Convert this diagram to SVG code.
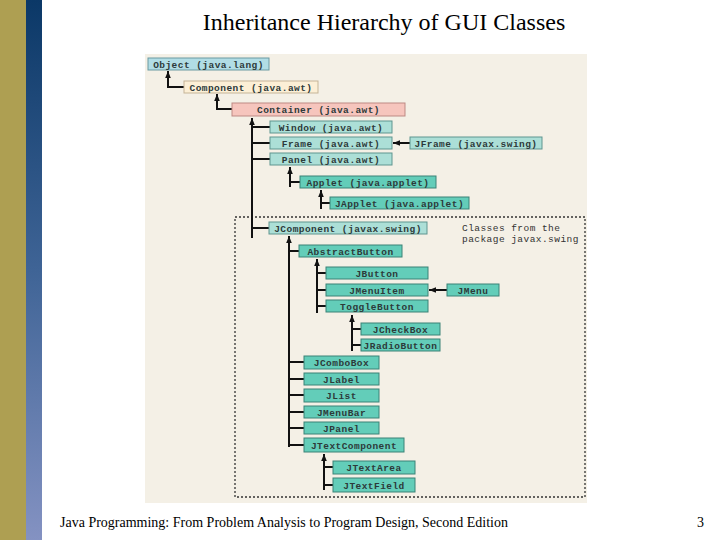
<svg xmlns="http://www.w3.org/2000/svg" width="720" height="540" viewBox="0 0 720 540">
<defs>
<linearGradient id="bar" x1="0" y1="0" x2="0" y2="1">
<stop offset="0" stop-color="#0b3867"/>
<stop offset="0.5" stop-color="#3f6496"/>
<stop offset="1" stop-color="#8492c2"/>
</linearGradient>
<marker id="arr" viewBox="0 0 10 8" refX="10" refY="4" markerWidth="7" markerHeight="5.6" markerUnits="userSpaceOnUse" orient="auto-start-reverse">
<path d="M0,0 L10,4 L0,8 z" fill="#111"/>
</marker>
<style>
.t{font-family:"Liberation Serif","Times New Roman",serif;fill:#000}
.b text{font-family:"Liberation Mono","Courier New",monospace;font-size:9.5px;font-weight:bold;letter-spacing:0.45px;fill:#2d3a3a;text-anchor:middle}
.l1 rect{fill:#acdfd7;stroke:#5f958f;stroke-width:1}
.l2 rect{fill:#63cdb9;stroke:#3a8277;stroke-width:1}
.c path{fill:none;stroke:#111;stroke-width:2}
.note{font-family:"Liberation Mono","Courier New",monospace;font-size:9.5px;letter-spacing:0.45px;fill:#333}
</style>
</defs>
<rect width="720" height="540" fill="#fff"/>
<rect x="0" y="0" width="26" height="540" fill="#ae9f52"/>
<rect x="26" y="0" width="16" height="540" fill="url(#bar)"/>
<text class="t" x="384" y="30" font-size="24" text-anchor="middle">Inheritance Hierarchy of GUI Classes</text>
<rect x="145" y="54" width="442" height="449" fill="#f4f0e6"/>
<rect x="235" y="217" width="350" height="280" fill="none" stroke="#333" stroke-width="1.3" stroke-dasharray="2,2"/>
<text class="note" x="462" y="231">Classes from the</text>
<text class="note" x="462" y="242">package javax.swing</text>
<g class="c" id="connectors">
<path d="M168,71 V87 H184" marker-start="url(#arr)"/>
<path d="M217,94 V109 H232" marker-start="url(#arr)"/>
<path d="M252,118 V238" marker-start="url(#arr)"/>
<path d="M252,127 H270 M252,143 H270 M252,159 H270 M252,228 H269"/>
<path d="M393,143 H410" marker-start="url(#arr)"/>
<path d="M290,167 V187" marker-start="url(#arr)"/>
<path d="M290,182 H300"/>
<path d="M321,190 V209" marker-start="url(#arr)"/>
<path d="M321,203 H330"/>
<path d="M289,236 V447" marker-start="url(#arr)"/>
<path d="M289,251 H299 M289,362 H304 M289,379 H304 M289,395 H304 M289,412 H304 M289,428 H304 M289,445 H304"/>
<path d="M317,259 V313" marker-start="url(#arr)"/>
<path d="M317,273 H326 M317,290 H326 M317,306 H326"/>
<path d="M429,290 H447" marker-start="url(#arr)"/>
<path d="M352,315 V351" marker-start="url(#arr)"/>
<path d="M352,329 H361 M352,345 H361"/>
<path d="M324,454 V490" marker-start="url(#arr)"/>
<path d="M324,467 H333 M324,485 H333"/>
</g>
<g class="b" id="object"><rect x="148" y="58" width="121" height="12" fill="#b1dde5" stroke="#6a9aa2"/><text x="208.5" y="67.5">Object (java.lang)</text></g>
<g class="b" id="component"><rect x="184" y="81" width="134" height="12" fill="#fcefd6" stroke="#c5b497"/><text x="251" y="90.5">Component (java.awt)</text></g>
<g class="b" id="container"><rect x="232" y="103" width="173" height="13" fill="#f6c5bd" stroke="#bd8983"/><text x="318.5" y="113">Container (java.awt)</text></g>
<g class="b l1" id="window"><rect x="270" y="121" width="122" height="12"/><text x="331" y="130.5">Window (java.awt)</text></g>
<g class="b l1" id="frame"><rect x="270" y="137" width="122" height="12"/><text x="331" y="146.5">Frame (java.awt)</text></g>
<g class="b l1" id="panel"><rect x="270" y="153" width="122" height="12"/><text x="331" y="162.5">Panel (java.awt)</text></g>
<g class="b l1" id="jframe"><rect x="410" y="137" width="132" height="12"/><text x="476" y="146.5">JFrame (javax.swing)</text></g>
<g class="b l2" id="applet"><rect x="300" y="176" width="136" height="12"/><text x="368" y="185.5">Applet (java.applet)</text></g>
<g class="b l2" id="japplet"><rect x="330" y="197" width="139" height="12"/><text x="399.5" y="206.5">JApplet (java.applet)</text></g>
<g class="b l1" id="jcomponent"><rect x="269" y="222" width="158" height="12"/><text x="348" y="231.5">JComponent (javax.swing)</text></g>
<g class="b l2" id="abstractbutton"><rect x="299" y="245" width="103" height="12"/><text x="350.5" y="254.5">AbstractButton</text></g>
<g class="b l2" id="jbutton"><rect x="326" y="267" width="102" height="12"/><text x="377" y="276.5">JButton</text></g>
<g class="b l2" id="jmenuitem"><rect x="326" y="284" width="102" height="12"/><text x="377" y="293.5">JMenuItem</text></g>
<g class="b l2" id="togglebutton"><rect x="326" y="300" width="102" height="12"/><text x="377" y="309.5">ToggleButton</text></g>
<g class="b l2" id="jmenu"><rect x="447" y="284" width="52" height="12"/><text x="473" y="293.5">JMenu</text></g>
<g class="b l2" id="jcheckbox"><rect x="361" y="323" width="79" height="12"/><text x="400.5" y="332.5">JCheckBox</text></g>
<g class="b l2" id="jradiobutton"><rect x="361" y="339" width="79" height="12"/><text x="400.5" y="348.5">JRadioButton</text></g>
<g class="b l2" id="jcombobox"><rect x="304" y="356" width="75" height="13"/><text x="341.5" y="366">JComboBox</text></g>
<g class="b l2" id="jlabel"><rect x="304" y="373" width="75" height="12"/><text x="341.5" y="382.5">JLabel</text></g>
<g class="b l2" id="jlist"><rect x="304" y="389" width="75" height="13"/><text x="341.5" y="399">JList</text></g>
<g class="b l2" id="jmenubar"><rect x="304" y="406" width="75" height="12"/><text x="341.5" y="415.5">JMenuBar</text></g>
<g class="b l2" id="jpanel"><rect x="304" y="422" width="75" height="12"/><text x="341.5" y="431.5">JPanel</text></g>
<g class="b l2" id="jtextcomponent"><rect x="304" y="438" width="100" height="14"/><text x="354" y="448.5">JTextComponent</text></g>
<g class="b l2" id="jtextarea"><rect x="333" y="461" width="82" height="13"/><text x="374" y="471">JTextArea</text></g>
<g class="b l2" id="jtextfield"><rect x="333" y="478" width="82" height="14"/><text x="374" y="488.5">JTextField</text></g>
<text class="t" x="60" y="527" font-size="14">Java Programming: From Problem Analysis to Program Design, Second Edition</text>
<text class="t" x="697" y="527" font-size="14">3</text>
</svg>
